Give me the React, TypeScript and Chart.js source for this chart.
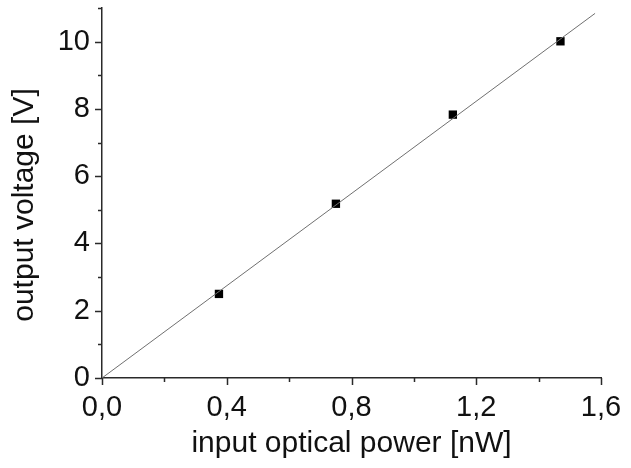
import React, { useEffect, useRef } from "react";
import { Chart, registerables } from "chart.js";

Chart.register(...registerables);

const measuredPower = [0.375, 0.75, 1.125, 1.47];
const measuredVoltage = [2.5, 5.18, 7.83, 10.01];
const fitPower = [0, 1.581];
const fitVoltage = [0, 10.84];

const xTitle = "input optical power [nW]";
const yTitle = "output voltage [V]";

const FONT = "'Liberation Sans', Arial, Helvetica, sans-serif";
const AXIS_COLOR = "#2a2a2a";

const decorPlugin = {
  id: "decor",
  afterDraw(chart: any) {
    const ctx = chart.ctx;
    const area = chart.chartArea;
    const xs = chart.scales.x;
    const ys = chart.scales.y;
    ctx.save();
    ctx.strokeStyle = AXIS_COLOR;
    ctx.lineWidth = 1.5;
    ctx.beginPath();
    xs.ticks.forEach((t: any) => {
      const major = Math.round(t.value * 10) % 4 === 0;
      const px = Math.round(xs.getPixelForValue(t.value)) + 0.5;
      ctx.moveTo(px, area.bottom);
      ctx.lineTo(px, area.bottom + (major ? 7 : 4));
    });
    ys.ticks.forEach((t: any) => {
      const major = Math.round(t.value) % 2 === 0;
      const py = Math.round(ys.getPixelForValue(t.value)) + 0.5;
      ctx.moveTo(area.left, py);
      ctx.lineTo(area.left - (major ? 7 : 4), py);
    });
    ctx.stroke();

    ctx.fillStyle = "#111";
    ctx.font = `30px ${FONT}`;
    ctx.textAlign = "center";
    ctx.textBaseline = "alphabetic";
    ctx.fillText(xTitle, (area.left + area.right) / 2, 452);
    ctx.translate(33, (area.top + area.bottom) / 2 + 12);
    ctx.rotate(-Math.PI / 2);
    ctx.fillText(yTitle, 0, 0);
    ctx.restore();
  },
};

export default function App() {
  const ref = useRef<HTMLCanvasElement>(null);
  useEffect(() => {
    document.body.style.margin = "0";
    const chart = new Chart(ref.current!, {
      type: "scatter",
      data: {
        datasets: [
          {
            type: "line",
            data: fitPower.map((x, i) => ({ x, y: fitVoltage[i] })),
            borderColor: "#707070",
            borderWidth: 1,
            pointRadius: 0,
            fill: false,
          },
          {
            data: measuredPower.map((x, i) => ({ x, y: measuredVoltage[i] })),
            pointStyle: "rect",
            pointRadius: 5.9,
            backgroundColor: "#000",
            borderColor: "#000",
            borderWidth: 0,
          },
        ],
      },
      options: {
        responsive: false,
        animation: false,
        layout: { padding: { top: 8, right: 30, left: 0, bottom: 0 } },
        plugins: { legend: { display: false }, tooltip: { enabled: false } },
        scales: {
          x: {
            type: "linear",
            min: 0,
            max: 1.6,
            afterFit: (s: any) => {
              s.height = 90;
              s.paddingLeft = 0;
              s.paddingRight = 0;
            },
            border: { display: true, color: AXIS_COLOR, width: 1.5 },
            grid: { drawOnChartArea: false, drawTicks: true, tickLength: 7, tickColor: "transparent" },
            ticks: {
              stepSize: 0.2,
              autoSkip: false,
              maxRotation: 0,
              padding: 6,
              color: "#111",
              font: { family: FONT, size: 29 },
              callback: (v: any) => {
                const n = Number(v);
                return Math.round(n * 10) % 4 === 0 ? n.toFixed(1).replace(".", ",") : "";
              },
            },
          },
          y: {
            type: "linear",
            min: 0,
            max: 11,
            afterFit: (s: any) => {
              s.width = 102;
              s.paddingTop = 0;
              s.paddingBottom = 0;
            },
            border: { display: true, color: AXIS_COLOR, width: 1.5 },
            grid: { drawOnChartArea: false, drawTicks: true, tickLength: 7, tickColor: "transparent" },
            ticks: {
              stepSize: 1,
              autoSkip: false,
              padding: 5,
              color: "#111",
              font: { family: FONT, size: 29 },
              callback: (v: any) => {
                const n = Math.round(Number(v));
                return n % 2 === 0 ? String(n) : "";
              },
            },
          },
        },
      },
      plugins: [decorPlugin],
    });
    return () => chart.destroy();
  }, []);
  return (
    <div style={{ width: 631, height: 468 }}>
      <canvas ref={ref} width={631} height={468} />
    </div>
  );
}
